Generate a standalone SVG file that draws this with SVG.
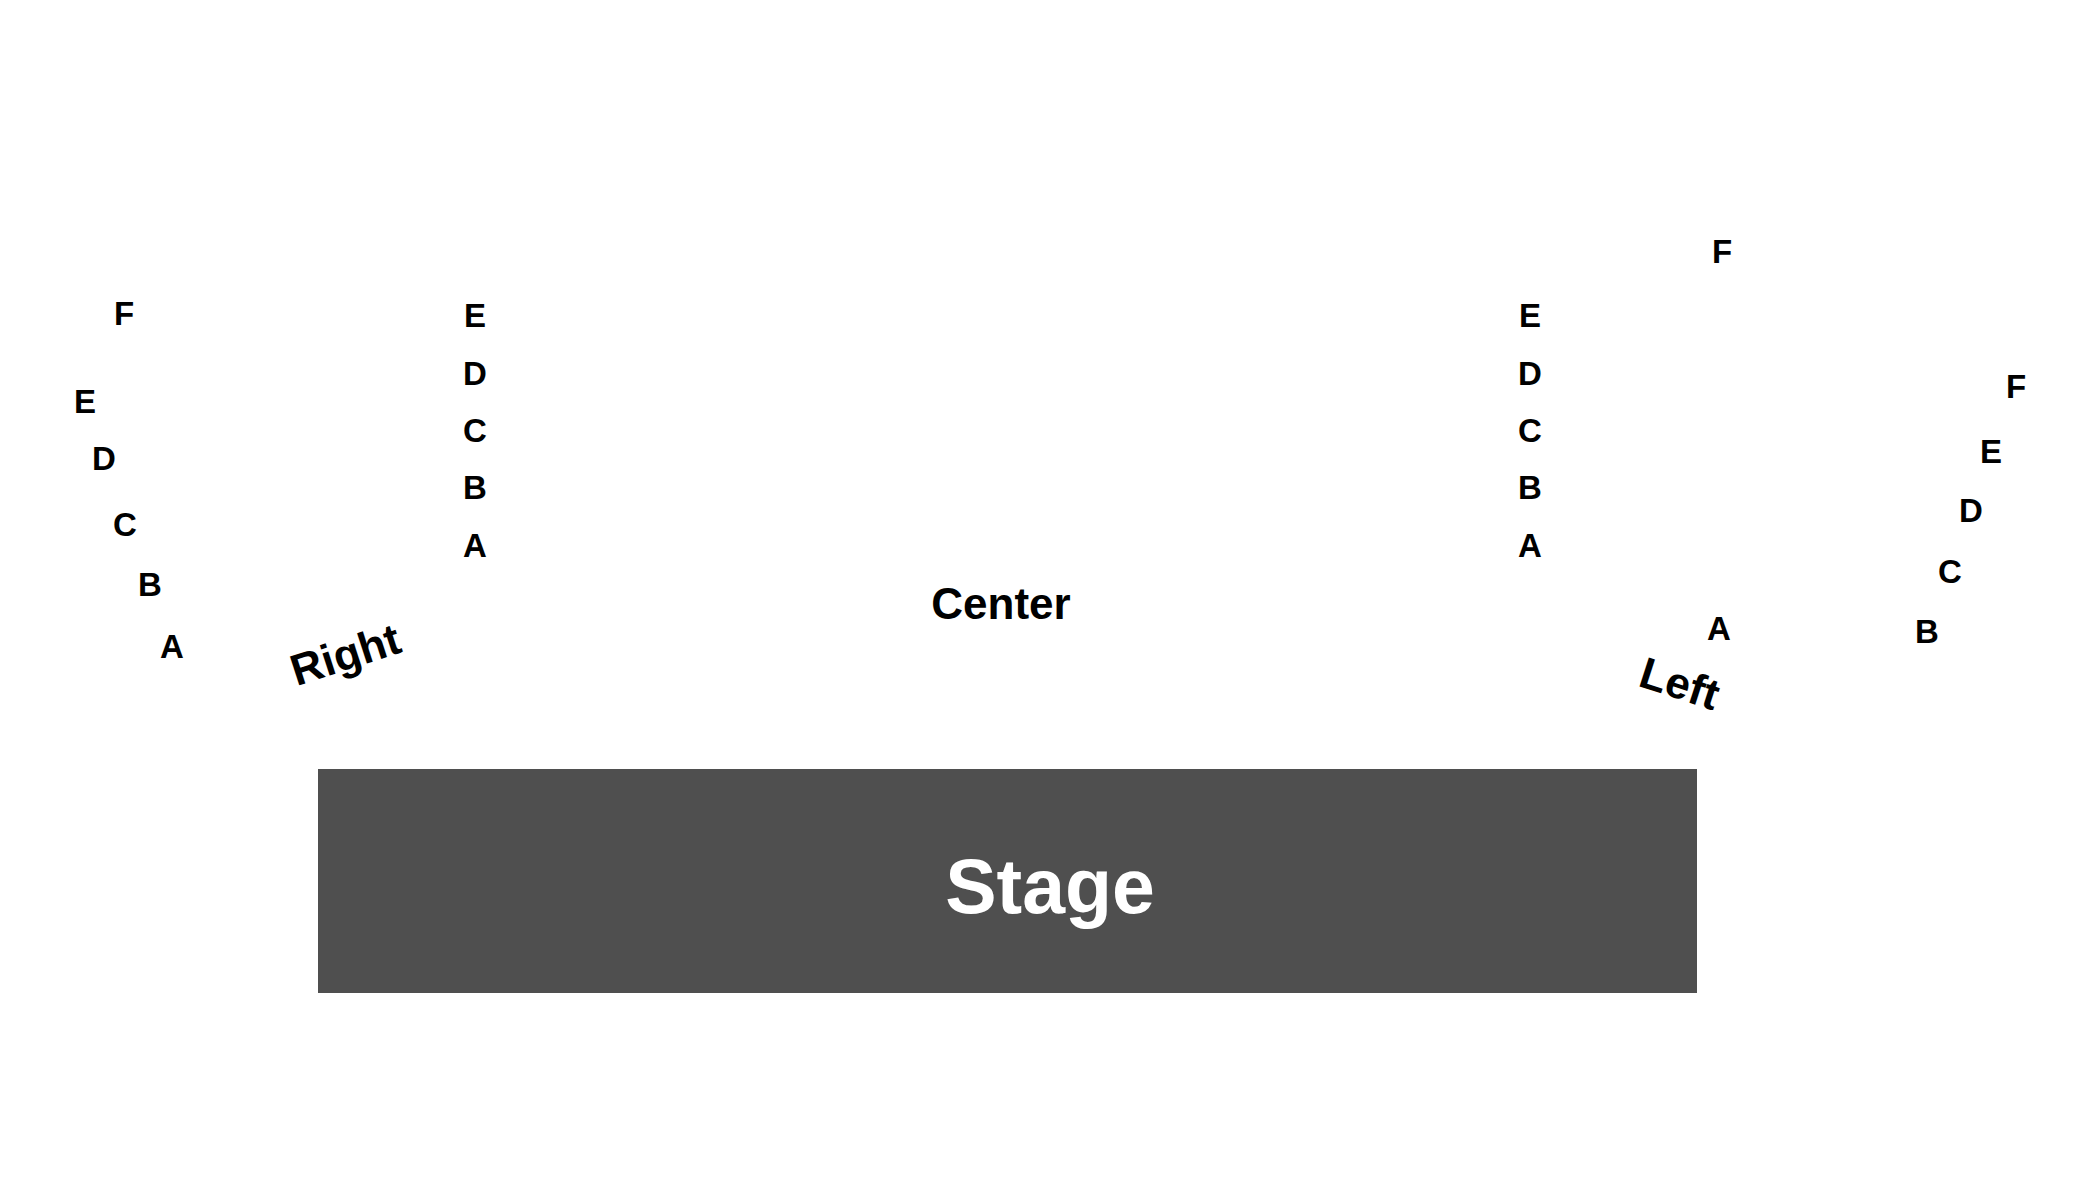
<svg xmlns="http://www.w3.org/2000/svg" width="2100" height="1200" viewBox="0 0 2100 1200">
<style>
.row{font-family:"Liberation Sans",Arial,sans-serif;font-weight:bold;font-size:33px;fill:#000;text-anchor:middle}
.sec{font-family:"Liberation Sans",Arial,sans-serif;font-weight:bold;font-size:44px;fill:#000;text-anchor:middle}
.stage{fill:#4f4f4f}
.stagetxt{font-family:"Liberation Sans",Arial,sans-serif;font-weight:bold;font-size:77px;fill:#fff;text-anchor:middle}
</style>
<rect width="2100" height="1200" fill="#fff"/>
<g id="stage">
<rect class="stage" x="318" y="769" width="1379" height="224"/>
<text class="stagetxt" x="1050" y="913">Stage</text>
</g>
<g id="section-right">
<text class="sec" x="350" y="669" font-size="46" transform="rotate(-18 350 669)">Right</text>
<text class="row" x="124" y="325">F</text>
<text class="row" x="85" y="413">E</text>
<text class="row" x="104" y="470">D</text>
<text class="row" x="125" y="536">C</text>
<text class="row" x="150" y="596">B</text>
<text class="row" x="172" y="658">A</text>
<text class="row" x="475" y="327">E</text>
<text class="row" x="475" y="385">D</text>
<text class="row" x="475" y="442">C</text>
<text class="row" x="475" y="499">B</text>
<text class="row" x="475" y="557">A</text>
</g>
<g id="section-center">
<text class="sec" x="1001" y="619" font-size="45">Center</text>
</g>
<g id="section-left">
<text class="sec" x="1675" y="698" font-size="45" transform="rotate(18 1675 698)">Left</text>
<text class="row" x="1530" y="327">E</text>
<text class="row" x="1530" y="385">D</text>
<text class="row" x="1530" y="442">C</text>
<text class="row" x="1530" y="499">B</text>
<text class="row" x="1530" y="557">A</text>
<text class="row" x="1722" y="263">F</text>
<text class="row" x="1719" y="640">A</text>
<text class="row" x="2016" y="398">F</text>
<text class="row" x="1991" y="463">E</text>
<text class="row" x="1971" y="522">D</text>
<text class="row" x="1950" y="583">C</text>
<text class="row" x="1927" y="643">B</text>
</g>
<g id="connectors"/>
</svg>
